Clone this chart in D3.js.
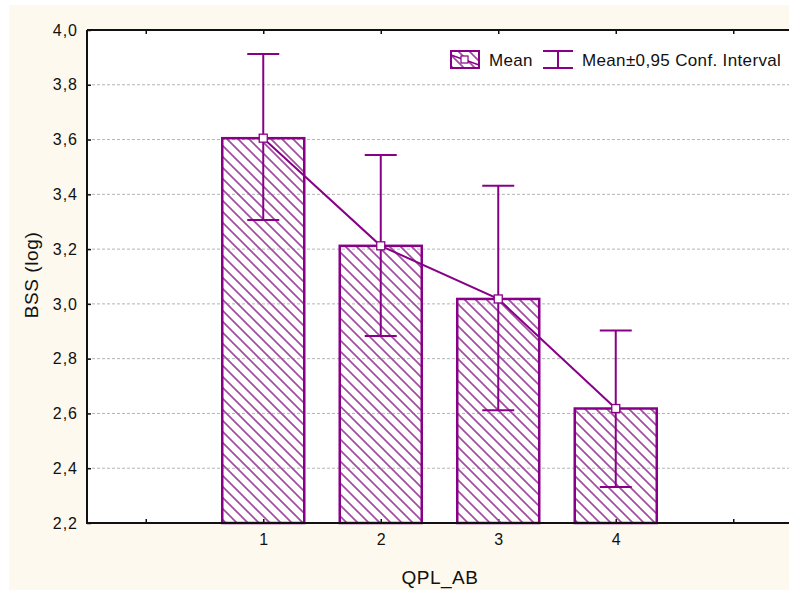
<!DOCTYPE html>
<html><head><meta charset="utf-8">
<script src="https://cdn.jsdelivr.net/npm/d3@7"></script>
<style>body{margin:0;background:#fff}svg{display:block}text{font-family:"Liberation Sans",Arial,sans-serif;fill:#111}</style>
</head><body>
<script>
const categories = ["1", "2", "3", "4"];
const means = [3.605, 3.212, 3.018, 2.618];
const ciLow = [3.306, 2.883, 2.612, 2.331];
const ciHigh = [3.912, 3.544, 3.431, 2.903];
const yTicks = [2.2, 2.4, 2.6, 2.8, 3.0, 3.2, 3.4, 3.6, 3.8, 4.0];
const xTickPositions = [0, 1, 2, 3, 4, 5];
const xTitle = "QPL_AB", yTitle = "BSS (log)";
const legendLabels = ["Mean", "Mean\u00B10,95 Conf. Interval"];

const W = 789, H = 590;
const purple = "#870087";
const L = 87, T = 30, B = 523, R = 792;
const svg = d3.select("body").append("svg").attr("width", W).attr("height", H);
const defs = svg.append("defs");
const hs = 11;
const pat = defs.append("pattern").attr("id", "hatch").attr("patternUnits", "userSpaceOnUse")
  .attr("width", hs).attr("height", hs);
pat.append("path").attr("d", `M0,0L${hs},${hs}M-1,${hs-1}L1,${hs+1}M${hs-1},-1L${hs+1},1`)
  .attr("stroke", "#a24ca2").attr("stroke-width", 1.7).attr("fill", "none");

svg.append("rect").attr("x", 9).attr("y", 5).attr("width", W - 9).attr("height", H - 5).attr("fill", "#fdf9ef");
svg.append("rect").attr("x", L).attr("y", T).attr("width", W - L).attr("height", B - T).attr("fill", "#fff");

const x = d3.scaleLinear().domain([-0.5, 5.5]).range([L, R]);
const y = d3.scaleLinear().domain([2.2, 4.0]).range([B, T]);
const fmt = d => d3.format(".1f")(d).replace(".", ",");

// gridlines
svg.append("g").selectAll("line").data(yTicks.filter(d => d > 2.2 && d < 4.0)).join("line")
  .attr("x1", L).attr("x2", W).attr("y1", d => y(d)).attr("y2", d => y(d))
  .attr("stroke", "#b4b4b4").attr("stroke-width", 1).attr("stroke-dasharray", "3,2");

// y axis
const yAxis = svg.append("g").attr("transform", `translate(${L},0)`)
  .call(d3.axisLeft(y).tickValues(yTicks).tickFormat(fmt).tickSizeInner(-4).tickSizeOuter(0).tickPadding(9));
yAxis.select(".domain").remove();
yAxis.selectAll("line").attr("stroke", "#111").attr("stroke-width", 1.5);
yAxis.selectAll("text").attr("font-size", 16).attr("letter-spacing", 1).attr("fill", "#111").style("font-family", "Liberation Sans, Arial");

// x axis bottom
const xAxis = svg.append("g").attr("transform", `translate(0,${B})`)
  .call(d3.axisBottom(x).tickValues(xTickPositions)
    .tickFormat(d => (d >= 1 && d <= categories.length) ? categories[d - 1] : "")
    .tickSizeInner(-4).tickSizeOuter(0).tickPadding(11));
xAxis.select(".domain").remove();
xAxis.selectAll("line").attr("stroke", "#111").attr("stroke-width", 1.5);
xAxis.selectAll("text").attr("font-size", 16).attr("fill", "#111").style("font-family", "Liberation Sans, Arial");
// top ticks
svg.append("g").attr("transform", `translate(0,${T})`)
  .call(d3.axisTop(x).tickValues(xTickPositions).tickFormat("").tickSizeInner(-4).tickSizeOuter(0))
  .call(g => g.select(".domain").remove())
  .selectAll("line").attr("stroke", "#111").attr("stroke-width", 1.5);

// bars
const bw = 82;
svg.append("g").selectAll("rect").data(means).join("rect")
  .attr("x", (d, i) => x(i + 1) - bw / 2).attr("width", bw)
  .attr("y", d => y(d)).attr("height", d => B - y(d))
  .attr("fill", "url(#hatch)").attr("stroke", purple).attr("stroke-width", 2.5);

// frame
svg.append("path").attr("d", `M${L},${T}H${W}M${L},${T}V${B}H${W}`)
  .attr("stroke", "#111").attr("stroke-width", 2).attr("fill", "none");

// error bars
const cap = 32;
const eb = svg.append("g").attr("stroke", purple).attr("stroke-width", 2).attr("fill", "none");
categories.forEach((c, i) => {
  const cx = x(i + 1);
  eb.append("line").attr("x1", cx).attr("x2", cx).attr("y1", y(ciHigh[i])).attr("y2", y(ciLow[i]));
  eb.append("line").attr("x1", cx - cap / 2).attr("x2", cx + cap / 2).attr("y1", y(ciHigh[i])).attr("y2", y(ciHigh[i]));
  eb.append("line").attr("x1", cx - cap / 2).attr("x2", cx + cap / 2).attr("y1", y(ciLow[i])).attr("y2", y(ciLow[i]));
});

// mean line
svg.append("path").datum(means)
  .attr("d", d3.line().x((d, i) => x(i + 1)).y(d => y(d)))
  .attr("stroke", purple).attr("stroke-width", 2).attr("fill", "none");
svg.append("g").selectAll("rect").data(means).join("rect")
  .attr("x", (d, i) => x(i + 1) - 4).attr("y", d => y(d) - 4).attr("width", 8).attr("height", 8)
  .attr("fill", "#fff").attr("stroke", purple).attr("stroke-width", 1.3);

// legend
const lg = svg.append("g");
lg.append("rect").attr("x", 451).attr("y", 51).attr("width", 28).attr("height", 17)
  .attr("fill", "url(#hatch)").attr("stroke", purple).attr("stroke-width", 2);
lg.append("line").attr("x1", 451).attr("x2", 479).attr("y1", 55).attr("y2", 65).attr("stroke", purple).attr("stroke-width", 1.5);
lg.append("rect").attr("x", 461).attr("y", 56).attr("width", 7).attr("height", 7)
  .attr("fill", "#fff").attr("stroke", purple).attr("stroke-width", 1.2);
lg.append("text").attr("x", 489).attr("y", 65.5).attr("font-size", 17).attr("letter-spacing", 0.35).text(legendLabels[0]);
lg.append("path").attr("d", "M543,51H573M543,68H573M558,51V68").attr("stroke", purple).attr("stroke-width", 2).attr("fill", "none");
lg.append("text").attr("x", 582).attr("y", 65.5).attr("font-size", 17).attr("letter-spacing", 0.35).text(legendLabels[1]);

// titles
svg.append("text").attr("x", 440).attr("y", 584).attr("text-anchor", "middle").attr("font-size", 19).attr("letter-spacing", 0.5).text(xTitle);
svg.append("text").attr("transform", "translate(37.5,275) rotate(-90)").attr("text-anchor", "middle").attr("font-size", 19).attr("letter-spacing", 0.6).text(yTitle);
</script>
</body></html>
